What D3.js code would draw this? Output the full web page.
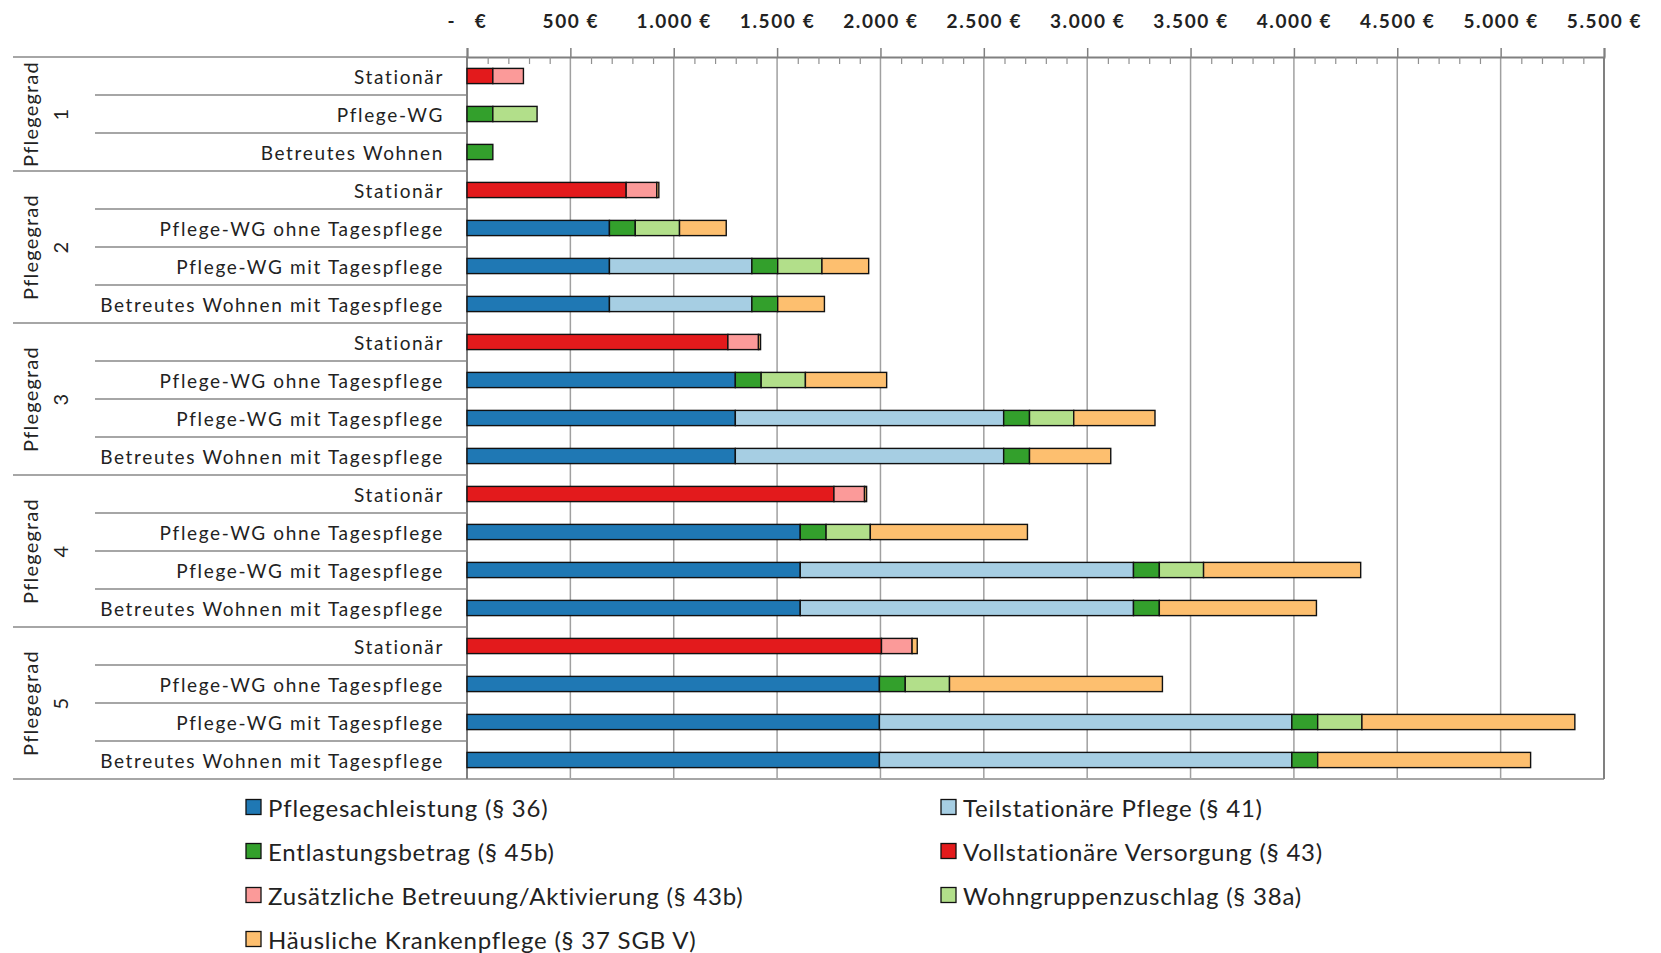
<!DOCTYPE html>
<html lang="de">
<head>
<meta charset="utf-8">
<script src="https://cdn.jsdelivr.net/npm/d3@7"></script>
<style>
  html, body { margin: 0; padding: 0; background: #fff; }
  svg { display: block; font-family: Lato, "Open Sans", sans-serif; }
</style>
</head>
<body>
<svg id="chart" width="1661" height="953"></svg>
<script>
// Leistungsarten (Reihenfolge = Stapelreihenfolge und Legende)
const seriesNames = [
  "Pflegesachleistung (§ 36)",
  "Teilstationäre Pflege (§ 41)",
  "Entlastungsbetrag (§ 45b)",
  "Vollstationäre Versorgung (§ 43)",
  "Zusätzliche Betreuung/Aktivierung (§ 43b)",
  "Wohngruppenzuschlag (§ 38a)",
  "Häusliche Krankenpflege (§ 37 SGB V)"
];
const seriesColors = ["#1f78b4", "#a6cee3", "#33a02c", "#e31a1c", "#fb9a99", "#b2df8a", "#fdbf6f"];

// Zeilen: Pflegegrad und Wohnform
const groups = ["1", "2", "3", "4", "5"];
const rowGroup = ["1", "1", "1",
  "2", "2", "2", "2",
  "3", "3", "3", "3",
  "4", "4", "4", "4",
  "5", "5", "5", "5"];
const rowLabels = ["Stationär", "Pflege-WG", "Betreutes Wohnen",
  "Stationär", "Pflege-WG ohne Tagespflege", "Pflege-WG mit Tagespflege", "Betreutes Wohnen mit Tagespflege",
  "Stationär", "Pflege-WG ohne Tagespflege", "Pflege-WG mit Tagespflege", "Betreutes Wohnen mit Tagespflege",
  "Stationär", "Pflege-WG ohne Tagespflege", "Pflege-WG mit Tagespflege", "Betreutes Wohnen mit Tagespflege",
  "Stationär", "Pflege-WG ohne Tagespflege", "Pflege-WG mit Tagespflege", "Betreutes Wohnen mit Tagespflege"];

// Beträge in € je Zeile
const pflegesachleistung = [0, 0, 0, 0, 689, 689, 689, 0, 1298, 1298, 1298, 0, 1612, 1612, 1612, 0, 1995, 1995, 1995];
const teilstationaer     = [0, 0, 0, 0, 0, 689, 689, 0, 0, 1298, 1298, 0, 0, 1612, 1612, 0, 0, 1995, 1995];
const entlastungsbetrag  = [0, 125, 125, 0, 125, 125, 125, 0, 125, 125, 125, 0, 125, 125, 125, 0, 125, 125, 125];
const vollstationaer     = [125, 0, 0, 770, 0, 0, 0, 1262, 0, 0, 0, 1775, 0, 0, 0, 2005, 0, 0, 0];
const betreuung43b       = [148, 0, 0, 148, 0, 0, 0, 148, 0, 0, 0, 148, 0, 0, 0, 148, 0, 0, 0];
const wohngruppenzuschlag = [0, 214, 0, 0, 214, 214, 0, 0, 214, 214, 0, 0, 214, 214, 0, 0, 214, 214, 0];
const krankenpflege      = [0, 0, 0, 10, 226, 226, 226, 10, 393, 393, 393, 10, 760, 760, 760, 25, 1030, 1030, 1030];

const xTicks = [0, 500, 1000, 1500, 2000, 2500, 3000, 3500, 4000, 4500, 5000, 5500];

const seriesValues = [pflegesachleistung, teilstationaer, entlastungsbetrag, vollstationaer,
  betreuung43b, wohngruppenzuschlag, krankenpflege];

const rows = rowLabels.map((label, i) => {
  const r = { id: i, label, group: rowGroup[i] };
  seriesNames.forEach((s, k) => { r[s] = seriesValues[k][i]; });
  return r;
});

const svg = d3.select("#chart");
const plot = { left: 467, right: 1604, top: 57, bottom: 779 };

const x = d3.scaleLinear().domain([0, 5500]).range([plot.left, plot.right]);
const y = d3.scaleBand().domain(rows.map(r => r.id))
  .range([plot.top, plot.bottom]).paddingInner(0.6).paddingOuter(0.3);
const step = y.step();
const rowTop = i => y(i) - (step - y.bandwidth()) / 2;

const color = d3.scaleOrdinal().domain(seriesNames).range(seriesColors);

const de = d3.formatLocale({ decimal: ",", thousands: ".", grouping: [3], currency: ["", " €"] });
const fmt = v => v === 0 ? "-   €" : de.format("$,.0f")(v);

// senkrechte Gitternetzlinien
svg.append("g").selectAll("line").data(xTicks).join("line")
  .attr("x1", d => x(d)).attr("x2", d => x(d))
  .attr("y1", plot.top).attr("y2", plot.bottom)
  .attr("stroke", "#a0a0a0").attr("stroke-width", 1.5);

// Trennlinien der Kategorien
const sepG = svg.append("g").attr("stroke", "#a6a6a6").attr("stroke-width", 2);
rows.forEach((r, i) => {
  const first = i === 0 || rowGroup[i - 1] !== r.group;
  sepG.append("line")
    .attr("x1", first ? 13 : 95).attr("x2", plot.left)
    .attr("y1", rowTop(i)).attr("y2", rowTop(i));
});
sepG.append("line").attr("x1", 13).attr("x2", plot.right)
  .attr("y1", plot.bottom).attr("y2", plot.bottom);

// Rahmen rechts und links
svg.append("line").attr("x1", plot.right).attr("x2", plot.right)
  .attr("y1", plot.top).attr("y2", plot.bottom)
  .attr("stroke", "#808080").attr("stroke-width", 2);
svg.append("line").attr("x1", plot.left).attr("x2", plot.left)
  .attr("y1", plot.top).attr("y2", plot.bottom)
  .attr("stroke", "#808080").attr("stroke-width", 2);

// gestapelte Balken
const stack = d3.stack().keys(seriesNames);
const layers = stack(rows);
svg.append("g").selectAll("g").data(layers).join("g")
  .attr("fill", d => color(d.key))
  .selectAll("rect").data(d => d.filter(p => p[1] - p[0] > 0)).join("rect")
  .attr("x", d => x(d[0]))
  .attr("width", d => x(d[1]) - x(d[0]))
  .attr("y", d => y(d.data.id))
  .attr("height", y.bandwidth())
  .attr("stroke", "#111").attr("stroke-width", 1.4);

// obere Achse mit Haupt- und Hilfsstrichen
const axisG = svg.append("g").attr("transform", `translate(0,${plot.top})`);
axisG.call(d3.axisTop(x).tickValues(xTicks).tickSize(9).tickPadding(20).tickFormat(fmt));
axisG.select(".domain").attr("stroke", "#808080").attr("stroke-width", 2);
axisG.selectAll(".tick line").attr("stroke", "#808080").attr("stroke-width", 1.5);
axisG.selectAll(".tick text")
  .attr("font-family", "Lato, sans-serif").attr("font-size", 19).attr("font-weight", "bold")
  .attr("fill", "#222").style("white-space", "pre").attr("letter-spacing", "1.6");

const minorTicks = d3.range(100, 5500, 100).filter(v => v % 500 !== 0);
const minorG = svg.append("g").attr("transform", `translate(0,${plot.top})`);
minorG.call(d3.axisTop(x).tickValues(minorTicks).tickSizeInner(-7).tickSizeOuter(0).tickFormat(""));
minorG.select(".domain").remove();
minorG.selectAll(".tick line").attr("stroke", "#909090").attr("stroke-width", 1.2);

// Zeilenbeschriftungen
svg.append("g").selectAll("text").data(rows).join("text")
  .attr("x", 444)
  .attr("y", d => y(d.id) + y.bandwidth() / 2)
  .attr("text-anchor", "end").attr("dominant-baseline", "central")
  .attr("font-size", 19).attr("letter-spacing", "1.65").attr("fill", "#222")
  .text(d => d.label);

// Gruppenbeschriftungen (Pflegegrad)
groups.forEach(g => {
  const idx = rows.filter(r => r.group === g).map(r => r.id);
  const y0 = rowTop(idx[0]);
  const y1 = rowTop(idx[idx.length - 1]) + step;
  const t = svg.append("text")
    .attr("transform", `translate(45,${(y0 + y1) / 2}) rotate(-90)`)
    .attr("text-anchor", "middle").attr("font-size", 20).attr("letter-spacing", "1.2").attr("fill", "#222");
  t.append("tspan").attr("x", 0).attr("y", -15).attr("dominant-baseline", "central").text("Pflegegrad");
  t.append("tspan").attr("x", 0).attr("y", 15).attr("dominant-baseline", "central").text(g);
});

// Legende in zwei Spalten
const legendCols = [246, 941];
const legendRows = [807, 851, 895, 939];
const legend = svg.append("g").selectAll("g").data(seriesNames).join("g")
  .attr("transform", (d, i) => `translate(${legendCols[i % 2]},${legendRows[Math.floor(i / 2)]})`);
legend.append("rect")
  .attr("x", 0).attr("y", -7.5).attr("width", 15).attr("height", 15)
  .attr("fill", d => color(d)).attr("stroke", "#111").attr("stroke-width", 1.3);
legend.append("text")
  .attr("x", 22).attr("y", 0).attr("dominant-baseline", "central")
  .attr("font-size", 24).attr("letter-spacing", "0.8").attr("fill", "#222")
  .text(d => d);
</script>
</body>
</html>
